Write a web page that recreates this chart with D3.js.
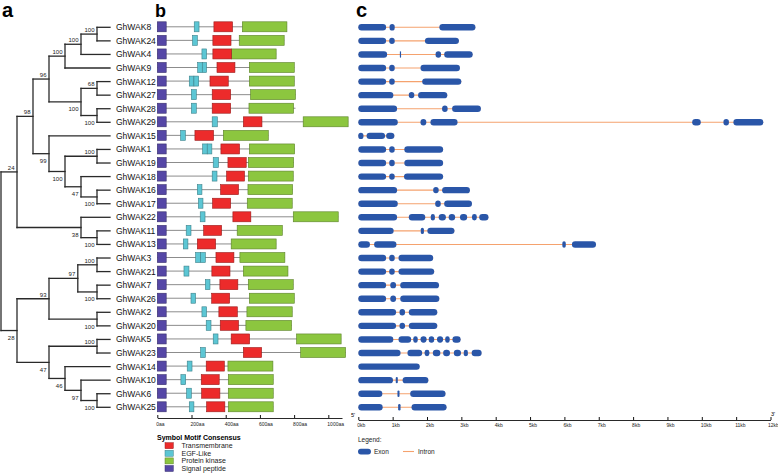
<!DOCTYPE html>
<html><head><meta charset="utf-8">
<script src="https://cdn.jsdelivr.net/npm/d3@7"></script>
<style>body{margin:0;background:#fff}svg{display:block}text{font-family:"Liberation Sans",Arial,Helvetica,sans-serif}</style>
</head><body><svg id="chart" width="778" height="473"></svg>
<script>
// ---------- DATA ----------
// phylogeny (cladogram, branch lengths in topological units; internal labels = bootstrap)
const newick = "(((((((GhWAK8:1,GhWAK24:1)100:1,GhWAK4:2)100:1,GhWAK9:3)100:1,((GhWAK12:1,GhWAK27:1)68:1,(GhWAK28:1,GhWAK29:1)100:1)100:2)96:1,(GhWAK15:4,((GhWAK1:1,GhWAK19:1)100:2,(GhWAK18:2,(GhWAK16:1,GhWAK17:1)100:1)47:1)100:1)99:1)98:1,(GhWAK22:2,(GhWAK11:1,GhWAK13:1)100:1)38:4)24:1,((((GhWAK3:1,GhWAK21:1)100:1.2,(GhWAK7:1,GhWAK26:1)100:1.2)97:1.8,(GhWAK2:1,GhWAK20:1)100:3)93:2,((GhWAK5:1,GhWAK23:1)100:3,(GhWAK14:3,(GhWAK10:2,(GhWAK6:1,GhWAK25:1)100:1)97:1)46:1)47:2)28:1);";

const genes = ["GhWAK8","GhWAK24","GhWAK4","GhWAK9","GhWAK12","GhWAK27","GhWAK28","GhWAK29","GhWAK15","GhWAK1","GhWAK19","GhWAK18","GhWAK16","GhWAK17","GhWAK22","GhWAK11","GhWAK13","GhWAK3","GhWAK21","GhWAK7","GhWAK26","GhWAK2","GhWAK20","GhWAK5","GhWAK23","GhWAK14","GhWAK10","GhWAK6","GhWAK25"];

// protein lengths (aa)
const proteinLength = [758,742,695,801,801,808,808,1116,649,803,797,795,791,789,1058,731,695,746,764,795,801,789,785,1075,1101,676,678,678,678];
// signal peptide (aa)
const signalPeptide = [[0,52],[0,52],[0,52],[0,52],[0,52],[0,52],[0,52],[0,52],[0,52],[0,52],[0,52],[0,52],[0,52],[0,52],[0,52],[0,52],[0,52],[0,52],[0,52],[0,52],[0,52],[0,52],[0,52],[0,52],[0,52],[0,52],[0,52],[0,52],[0,52]];
// EGF-like domains
const egfLike = [[[216,244]],[[206,234]],[[261,288]],[[236,263],[263,288]],[[187,214],[214,242]],[[199,228]],[[199,228]],[[321,351]],[[136,164]],[[265,292],[292,319]],[[327,358]],[[321,349]],[[234,261]],[[240,267]],[[251,279]],[[169,197]],[[152,179]],[[224,253],[253,281]],[[156,185]],[[281,308]],[[197,224]],[[261,288]],[[286,314]],[[327,355]],[[253,281]],[[175,203]],[[138,166]],[[171,199]],[[187,214]]];
// transmembrane
const transmembrane = [[331,440],[325,431],[325,434],[349,454],[308,415],[321,429],[321,429],[503,612],[220,329],[372,481],[413,520],[405,510],[370,475],[323,429],[442,547],[271,376],[234,341],[343,448],[319,425],[366,471],[318,423],[360,468],[368,475],[432,540],[503,610],[286,392],[257,362],[259,366],[288,395]];
// protein kinase
const proteinKinase = [[497,758],[479,742],[434,695],[538,801],[538,801],[545,808],[536,797],[853,1116],[386,649],[538,803],[532,797],[532,795],[530,791],[526,789],[795,1058],[467,731],[432,695],[483,746],[503,764],[532,795],[538,801],[524,789],[518,785],[814,1075],[838,1101],[413,676],[415,678],[415,678],[415,678]];

// exons (kb)
const exons = [
 [[0,0.81],[0.91,1.06],[2.36,3.41]],
 [[0,0.81],[0.90,1.06],[1.94,2.93]],
 [[0,0.84],[1.21,1.24],[2.25,2.41],[2.50,3.33]],
 [[0,0.81],[0.90,1.06],[1.81,2.96]],
 [[0,0.81],[0.90,1.06],[1.86,3.00]],
 [[0,1.02],[1.47,1.63],[1.74,2.59]],
 [[0,1.13],[2.44,2.60],[2.73,3.57]],
 [[0,1.15],[1.81,1.98],[2.10,2.89],[9.72,9.97],[10.63,10.79],[10.92,11.79]],
 [[0,0.15],[0.24,0.78],[0.81,1.05]],
 [[0,0.81],[0.90,1.06],[1.34,2.47]],
 [[0,0.81],[0.90,1.06],[1.34,2.47]],
 [[0,0.81],[0.90,1.06],[1.33,2.47]],
 [[0,1.13],[2.18,2.34],[2.44,3.25]],
 [[0,1.15],[2.24,2.40],[2.50,3.31]],
 [[0,1.13],[1.47,1.95],[2.11,2.23],[2.34,2.55],[2.63,2.82],[2.96,3.17],[3.31,3.45],[3.52,3.79]],
 [[0,1.03],[1.82,1.91],[2.01,2.80]],
 [[0,0.34],[0.46,1.11],[5.94,6.04],[6.22,6.92]],
 [[0,0.81],[0.90,1.06],[1.17,2.18]],
 [[0,0.81],[0.90,1.06],[1.17,2.21]],
 [[0,0.81],[0.93,1.10],[1.22,2.35]],
 [[0,0.81],[0.93,1.10],[1.22,2.36]],
 [[0,1.10],[1.20,1.36],[1.47,2.30]],
 [[0,1.10],[1.20,1.36],[1.47,2.30]],
 [[0,1.02],[1.17,1.54],[1.60,1.73],[1.81,1.99],[2.05,2.21],[2.29,2.47],[2.53,2.66],[2.74,2.98]],
 [[0,1.23],[1.43,1.86],[1.93,2.07],[2.17,2.39],[2.47,2.67],[2.78,2.99],[3.07,3.19],[3.30,3.59]],
 [[0,1.79]],
 [[0,1.01],[1.09,1.15],[1.29,2.04]],
 [[0,0.70],[1.14,1.20],[1.51,2.54]],
 [[0,0.71],[1.16,1.23],[1.55,2.57]]
];

const aaTicks = [0,200,400,600,800,1000];
const kbTicks = [0,1,2,3,4,5,6,7,8,9,10,11,12];
const motifLegend = ["Transmembrane","EGF-Like","Protein kinase","Signal peptide"];
const motifColors = {"Transmembrane":"#ec2b2b","EGF-Like":"#5cc6d4","Protein kinase":"#8cc63f","Signal peptide":"#5547a6"};

// ---------- DRAW ----------
const svg = d3.select("#chart");
svg.append("rect").attr("width",778).attr("height",473).attr("fill","#fff");

const y = d3.scalePoint().domain(genes).range([27.3, 407.3]);

// panel letters
svg.append("text").attr("x",2).attr("y",17).attr("font-size",20).attr("font-weight","bold").text("a");
svg.append("text").attr("x",155).attr("y",17).attr("font-size",18).attr("font-weight","bold").text("b");
svg.append("text").attr("x",356).attr("y",17).attr("font-size",20).attr("font-weight","bold").text("c");

// ---- tree ----
function parseNewick(s){
  let i=0;
  function node(){
    const n={};
    if(s[i]==='('){
      i++; n.children=[node()];
      while(s[i]===','){ i++; n.children.push(node()); }
      i++;
    }
    let name='';
    while(i<s.length && !',():;'.includes(s[i])) name+=s[i++];
    let len=0;
    if(s[i]===':'){ i++; let num=''; while(i<s.length && !',();'.includes(s[i])) num+=s[i++]; len=+num; }
    if(n.children) n.support=name; else n.name=name;
    n.len=len;
    return n;
  }
  return node();
}
const root = d3.hierarchy(parseNewick(newick));
root.eachBefore(d=>{ d.dist = d.parent ? d.parent.dist + d.data.len : 0; });
root.eachAfter(d=>{
  if(d.children){ d.yy = (d.children[0].yy + d.children[d.children.length-1].yy)/2; }
  else d.yy = y(d.data.name);
});
const tx = d3.scaleLinear().domain([0,6,7]).range([1,97,110]);
const tg = svg.append("g").attr("stroke","#2a2a2a").attr("stroke-width",1.3).attr("fill","none").attr("stroke-linecap","square");
root.descendants().forEach(d=>{
  if(d.children){
    tg.append("line").attr("x1",tx(d.dist)).attr("x2",tx(d.dist))
      .attr("y1",d.children[0].yy).attr("y2",d.children[d.children.length-1].yy);
    d.children.forEach(c=>{
      tg.append("line").attr("x1",tx(d.dist)).attr("x2",tx(c.dist)).attr("y1",c.yy).attr("y2",c.yy);
    });
  }
});
// supports
root.descendants().forEach(d=>{
  if(d.children && d.parent){
    const first = d.parent.children[0]===d;
    svg.append("text").attr("x",tx(d.dist)-2.5).attr("y", first? d.yy-2 : d.yy+9.5)
      .attr("text-anchor","end").attr("font-size",6).attr("fill","#222").text(d.data.support);
  }
});
// leaf labels
svg.append("g").selectAll("text").data(genes).join("text")
  .attr("x",116).attr("y",d=>y(d)+3).attr("font-size",8.5).attr("fill","#111").text(d=>d);

// ---- motifs ----
const xa = d3.scaleLinear().domain([0,1080]).range([157.3,342.0]);
const mg = svg.append("g");
const bh = 10;
genes.forEach((g,i)=>{
  const yy = y(g)-0.5;
  mg.append("line").attr("x1",xa(0)).attr("x2",xa(proteinLength[i])).attr("y1",yy).attr("y2",yy)
    .attr("stroke","#8c8c8c").attr("stroke-width",1);
  const boxes = [];
  boxes.push({r:proteinKinase[i], t:"Protein kinase"});
  boxes.push({r:transmembrane[i], t:"Transmembrane"});
  egfLike[i].forEach(r=>boxes.push({r, t:"EGF-Like"}));
  boxes.push({r:signalPeptide[i], t:"Signal peptide"});
  boxes.forEach(b=>{
    const c = motifColors[b.t];
    mg.append("rect").attr("x",xa(b.r[0])).attr("width",xa(b.r[1])-xa(b.r[0]))
      .attr("y",yy-bh/2).attr("height",bh).attr("fill",c)
      .attr("stroke",d3.color(c).darker(1.2)).attr("stroke-width",0.6);
  });
});
const axA = svg.append("g").attr("transform","translate(0,418)")
  .call(d3.axisBottom(xa).tickValues(aaTicks).tickSizeInner(-3).tickSizeOuter(0).tickPadding(4).tickFormat(d=>d+"aa"));
axA.select(".domain").attr("stroke","#111").attr("stroke-width",0.9);
axA.selectAll(".tick line").attr("stroke","#111");
axA.selectAll(".tick text").attr("font-size",5).attr("text-anchor","start").attr("x",-1.5).attr("fill","#222").attr("font-family",null);

// motif legend
svg.append("text").attr("x",157).attr("y",440).attr("font-size",7).attr("font-weight","bold").text("Symbol Motif Consensus");
motifLegend.forEach((m,i)=>{
  const yy = 445.7 + i*7.6;
  svg.append("rect").attr("x",165).attr("y",yy-3).attr("width",8.3).attr("height",6)
    .attr("fill",motifColors[m]).attr("stroke",d3.color(motifColors[m]).darker(1.2)).attr("stroke-width",0.5);
  svg.append("text").attr("x",181.5).attr("y",yy+2.4).attr("font-size",7).attr("fill","#222").text(m);
});

// ---- gene structure ----
const xk = d3.scaleLinear().domain([0,12]).range([358.3,770.5]);
const gg = svg.append("g");
genes.forEach((g,i)=>{
  const yy = y(g);
  const ex = exons[i];
  if(ex.length>1){
    gg.append("line").attr("x1",xk(ex[0][0])).attr("x2",xk(ex[ex.length-1][1])).attr("y1",yy).attr("y2",yy)
      .attr("stroke","#f5a26e").attr("stroke-width",1.1);
  }
  ex.forEach(e=>{
    const w = Math.max(1.2, xk(e[1])-xk(e[0]));
    gg.append("rect").attr("x",xk(e[0])).attr("width",w).attr("y",yy-3.2).attr("height",6.4)
      .attr("rx",Math.min(3.2,w/2)).attr("fill","#2a56a8");
  });
});
const axK = svg.append("g").attr("transform","translate(0,420)")
  .call(d3.axisBottom(xk).tickValues(kbTicks).tickSizeInner(-3).tickSizeOuter(0).tickPadding(3.5).tickFormat(d=>d+"kb"));
axK.select(".domain").attr("stroke","#111").attr("stroke-width",0.9);
axK.selectAll(".tick line").attr("stroke","#111");
axK.selectAll(".tick text").attr("font-size",5).attr("text-anchor","start").attr("x",d=>d===12?-3:-1.5).attr("fill","#222").attr("font-family",null);
svg.append("text").attr("x",351).attr("y",417).attr("font-size",5.5).text("5'");
svg.append("text").attr("x",771).attr("y",416).attr("font-size",5.5).text("3'");

// gene legend
svg.append("text").attr("x",358).attr("y",441.5).attr("font-size",6.5).attr("fill","#222").text("Legend:");
svg.append("rect").attr("x",358).attr("y",448.7).attr("width",13).attr("height",5.8).attr("rx",2.9).attr("fill","#2a56a8");
svg.append("text").attr("x",374).attr("y",454).attr("font-size",6.5).attr("fill","#222").text("Exon");
svg.append("line").attr("x1",403).attr("x2",414).attr("y1",451.5).attr("y2",451.5).attr("stroke","#f5a26e").attr("stroke-width",1.1);
svg.append("text").attr("x",418).attr("y",454).attr("font-size",6.5).attr("fill","#222").text("Intron");
</script></body></html>
